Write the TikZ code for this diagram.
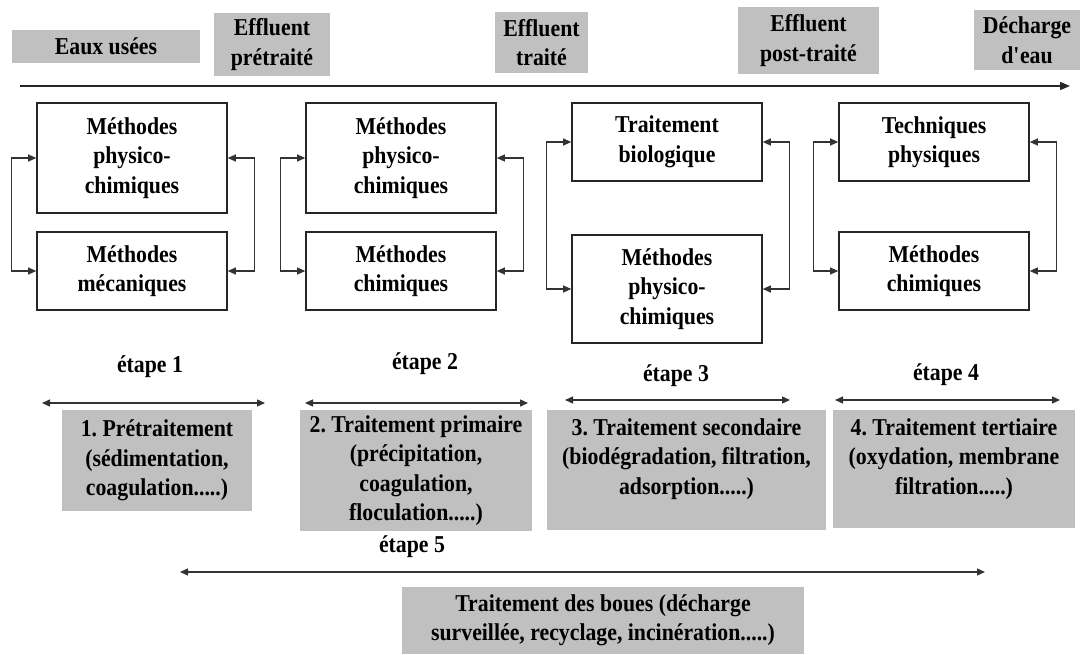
\documentclass[tikz,border=0pt]{standalone}
\usepackage{fontspec}
\setmainfont{Liberation Serif}[FakeStretch=0.9]
\usetikzlibrary{arrows.meta}
\definecolor{boxgray}{RGB}{192,192,192}
\frenchspacing
\begin{document}
\begin{tikzpicture}[x=1pt,y=-1pt,
  every node/.style={font=\fontsize{24.2}{29.5}\selectfont\bfseries\frenchspacing, align=center, inner sep=0pt, text=black},
  wbox/.style={draw=black!85, line width=1.6pt, minimum width=190pt},
  gbox/.style={fill=boxgray, draw=none},
  lbl/.style={},
  link/.style={draw=black!80, line width=1.1pt, {Triangle[length=8pt,width=7pt]}-{Triangle[length=8pt,width=7pt]}},
  span/.style={draw=black!80, line width=1.3pt, {Triangle[length=8pt,width=7pt]}-{Triangle[length=8pt,width=7pt]}},
  flow/.style={draw=black!85, line width=1.5pt, -{Triangle[length=10pt,width=8pt]}}
]
\useasboundingbox (0,0) rectangle (1080,654);

% top labels
\node[gbox, minimum width=188pt, minimum height=33pt] (t1) at (106,46.5) {Eaux usées};
\node[gbox, minimum width=116pt, minimum height=63pt] (t2) at (272,44.5) {Effluent\\prétraité};
\node[gbox, minimum width=93pt, minimum height=61pt] (t3) at (541.5,42.5) {Effluent\\traité};
\node[gbox, minimum width=141pt, minimum height=67pt] (t4) at (808.5,40.5) {Effluent\\post-traité};
\node[gbox, minimum width=106pt, minimum height=60pt] (t5) at (1027,40) {Décharge\\d\textquotesingle eau};

\coordinate (fs) at (20,86);
\coordinate (fe) at (1070,86);
\draw[flow] (fs) -- (fe);

% column boxes
\node[wbox, minimum height=110pt] (c1a) at (132,158) {Méthodes\\physico-\\chimiques};
\node[wbox, minimum height=78pt]  (c1b) at (132,271) {Méthodes\\mécaniques};
\node[wbox, minimum height=110pt] (c2a) at (401,158) {Méthodes\\physico-\\chimiques};
\node[wbox, minimum height=78pt]  (c2b) at (401,271) {Méthodes\\chimiques};
\node[wbox, minimum height=78pt]  (c3a) at (667,142) {Traitement\\biologique};
\node[wbox, minimum height=108pt] (c3b) at (667,289) {Méthodes\\physico-\\chimiques};
\node[wbox, minimum height=78pt]  (c4a) at (934,142) {Techniques\\physiques};
\node[wbox, minimum height=78pt]  (c4b) at (934,271) {Méthodes\\chimiques};

\foreach \a/\b in {c1a/c1b, c2a/c2b, c3a/c3b, c4a/c4b}{
  \draw[link] (\a.west) -- ++(-25,0) |- (\b.west);
  \draw[link] (\a.east) -- ++(27,0) |- (\b.east);
}

% stage labels
\node[lbl] (e1) at (150,367) {étape 1};
\node[lbl] (e2) at (425,364) {étape 2};
\node[lbl] (e3) at (676,376) {étape 3};
\node[lbl] (e4) at (946,375) {étape 4};
\node[lbl] (e5) at (412,547) {étape 5};

% stage spans
\coordinate (s1a) at (42,403);  \coordinate (s1b) at (265,403);
\coordinate (s2a) at (305,403); \coordinate (s2b) at (528,403);
\coordinate (s3a) at (565,400); \coordinate (s3b) at (790,400);
\coordinate (s4a) at (835,400); \coordinate (s4b) at (1060,400);
\coordinate (s5a) at (180,572); \coordinate (s5b) at (985,572);
\draw[span] (s1a) -- (s1b);
\draw[span] (s2a) -- (s2b);
\draw[span] (s3a) -- (s3b);
\draw[span] (s4a) -- (s4b);
\draw[span] (s5a) -- (s5b);

% lower grey boxes
\node[gbox, minimum width=190pt, minimum height=101pt] (g1) at (157,460.5) {1. Prétraitement\\(sédimentation,\\coagulation.....)};
\node[gbox, minimum width=232pt, minimum height=121pt] (g2) at (416,470.5) {2. Traitement primaire\\(précipitation,\\coagulation,\\floculation.....)};
\node[gbox, minimum width=279pt, minimum height=120pt] (g3) at (686.5,470) {};
\node (g3t) at (686.5,459) {3. Traitement secondaire\\(biodégradation, filtration,\\adsorption.....)};
\node[gbox, minimum width=242pt, minimum height=118pt] (g4) at (954,469) {};
\node (g4t) at (954,459) {4. Traitement tertiaire\\(oxydation, membrane\\filtration.....)};
\node[gbox, minimum width=402pt, minimum height=67pt] (g5) at (603,620.5) {Traitement des boues (décharge\\surveillée, recyclage, incinération.....)};
\end{tikzpicture}
\end{document}
